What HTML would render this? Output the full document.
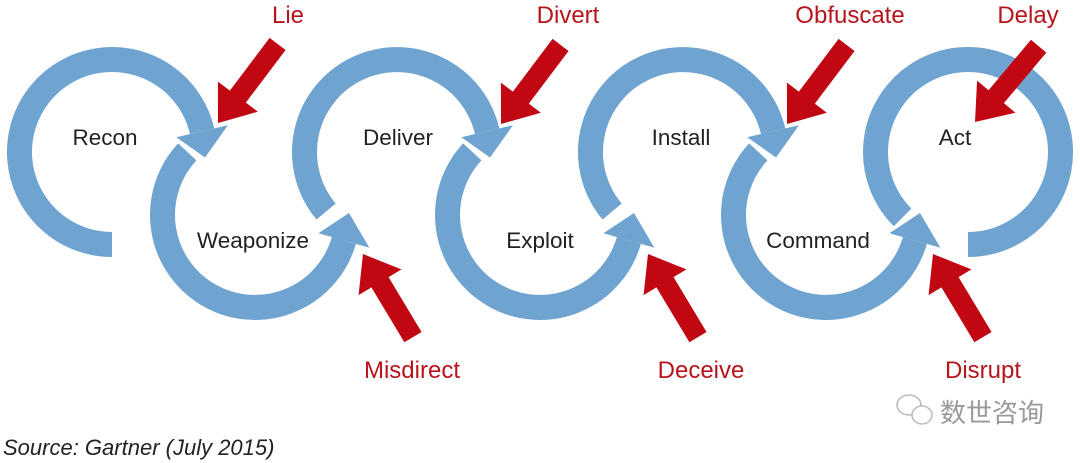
<!DOCTYPE html>
<html><head><meta charset="utf-8"><style>
html,body{margin:0;padding:0;background:#fff;}
svg{display:block;}
</style></head><body>
<svg width="1080" height="463" viewBox="0 0 1080 463" xmlns="http://www.w3.org/2000/svg">
<g fill="none" stroke="#6fa4d0" stroke-width="25">
<path d="M112,244.5 A92.5,92.5 0 1 1 202.1,131.2"/>
<path d="M326.1,211.5 A92.5,92.5 0 1 1 487.1,131.2"/>
<path d="M612.1,211.5 A92.5,92.5 0 1 1 773.1,131.2"/>
<path d="M902.6,217.4 A92.5,92.5 0 1 1 968,244.5"/>
<path d="M187.3,151.9 A92.5,92.5 0 1 0 343.9,240.5"/>
<path d="M472.3,151.9 A92.5,92.5 0 1 0 628.9,240.5"/>
<path d="M758.3,151.9 A92.5,92.5 0 1 0 914.9,240.5"/>
</g>
<g fill="#6fa4d0">
<polygon points="176.3,137.2 228,125.2 205,157.5"/>
<polygon points="461.3,137.2 513,125.2 490,157.5"/>
<polygon points="747.3,137.2 799,125.2 776,157.5"/>
<polygon points="318.4,233.2 369.4,247.8 349,213"/>
<polygon points="603.4,233.2 654.4,247.8 634,213"/>
<polygon points="889.4,233.2 940.4,247.8 920,213"/>
</g>
<g fill="#c00712">
<polygon transform="translate(218,123) rotate(127)" points="-99,-10 -33,-10 -33,-25 0,0 -33,25 -33,10 -99,10"/>
<polygon transform="translate(501,124) rotate(127)" points="-99,-10 -33,-10 -33,-25 0,0 -33,25 -33,10 -99,10"/>
<polygon transform="translate(787,124) rotate(127)" points="-99,-10 -33,-10 -33,-25 0,0 -33,25 -33,10 -99,10"/>
<polygon transform="translate(975,122) rotate(130)" points="-99,-10 -33,-10 -33,-25 0,0 -33,25 -33,10 -99,10"/>
<polygon transform="translate(363,254) rotate(-121)" points="-97,-10 -33,-10 -33,-25 0,0 -33,25 -33,10 -97,10"/>
<polygon transform="translate(648,254) rotate(-121)" points="-97,-10 -33,-10 -33,-25 0,0 -33,25 -33,10 -97,10"/>
<polygon transform="translate(933,254) rotate(-121)" points="-97,-10 -33,-10 -33,-25 0,0 -33,25 -33,10 -97,10"/>
</g>
<g font-family="Liberation Sans, sans-serif" font-size="22.5" fill="#222" text-anchor="middle">
<text x="105" y="145">Recon</text>
<text x="253" y="248">Weaponize</text>
<text x="398" y="145">Deliver</text>
<text x="540" y="248">Exploit</text>
<text x="681" y="145">Install</text>
<text x="818" y="248">Command</text>
<text x="955" y="145">Act</text>
</g>
<g font-family="Liberation Sans, sans-serif" font-size="24" fill="#b8141c" text-anchor="middle">
<text x="288" y="23">Lie</text>
<text x="568" y="23">Divert</text>
<text x="850" y="23">Obfuscate</text>
<text x="1028" y="23">Delay</text>
<text x="412" y="378">Misdirect</text>
<text x="701" y="378">Deceive</text>
<text x="983" y="378">Disrupt</text>
</g>
<text x="3" y="455" font-family="Liberation Sans, sans-serif" font-size="22" font-style="italic" fill="#222">Source: Gartner (July 2015)</text>
<g fill="none" stroke="#bbb" stroke-width="1.5">
<ellipse cx="909" cy="405" rx="12" ry="10"/>
<ellipse cx="922" cy="415" rx="10" ry="9" fill="#fff"/>
</g>
<text x="940" y="422" font-family="Liberation Sans, 'Noto Sans CJK SC', sans-serif" font-size="26" fill="#999">数世咨询</text>
</svg>
</body></html>
